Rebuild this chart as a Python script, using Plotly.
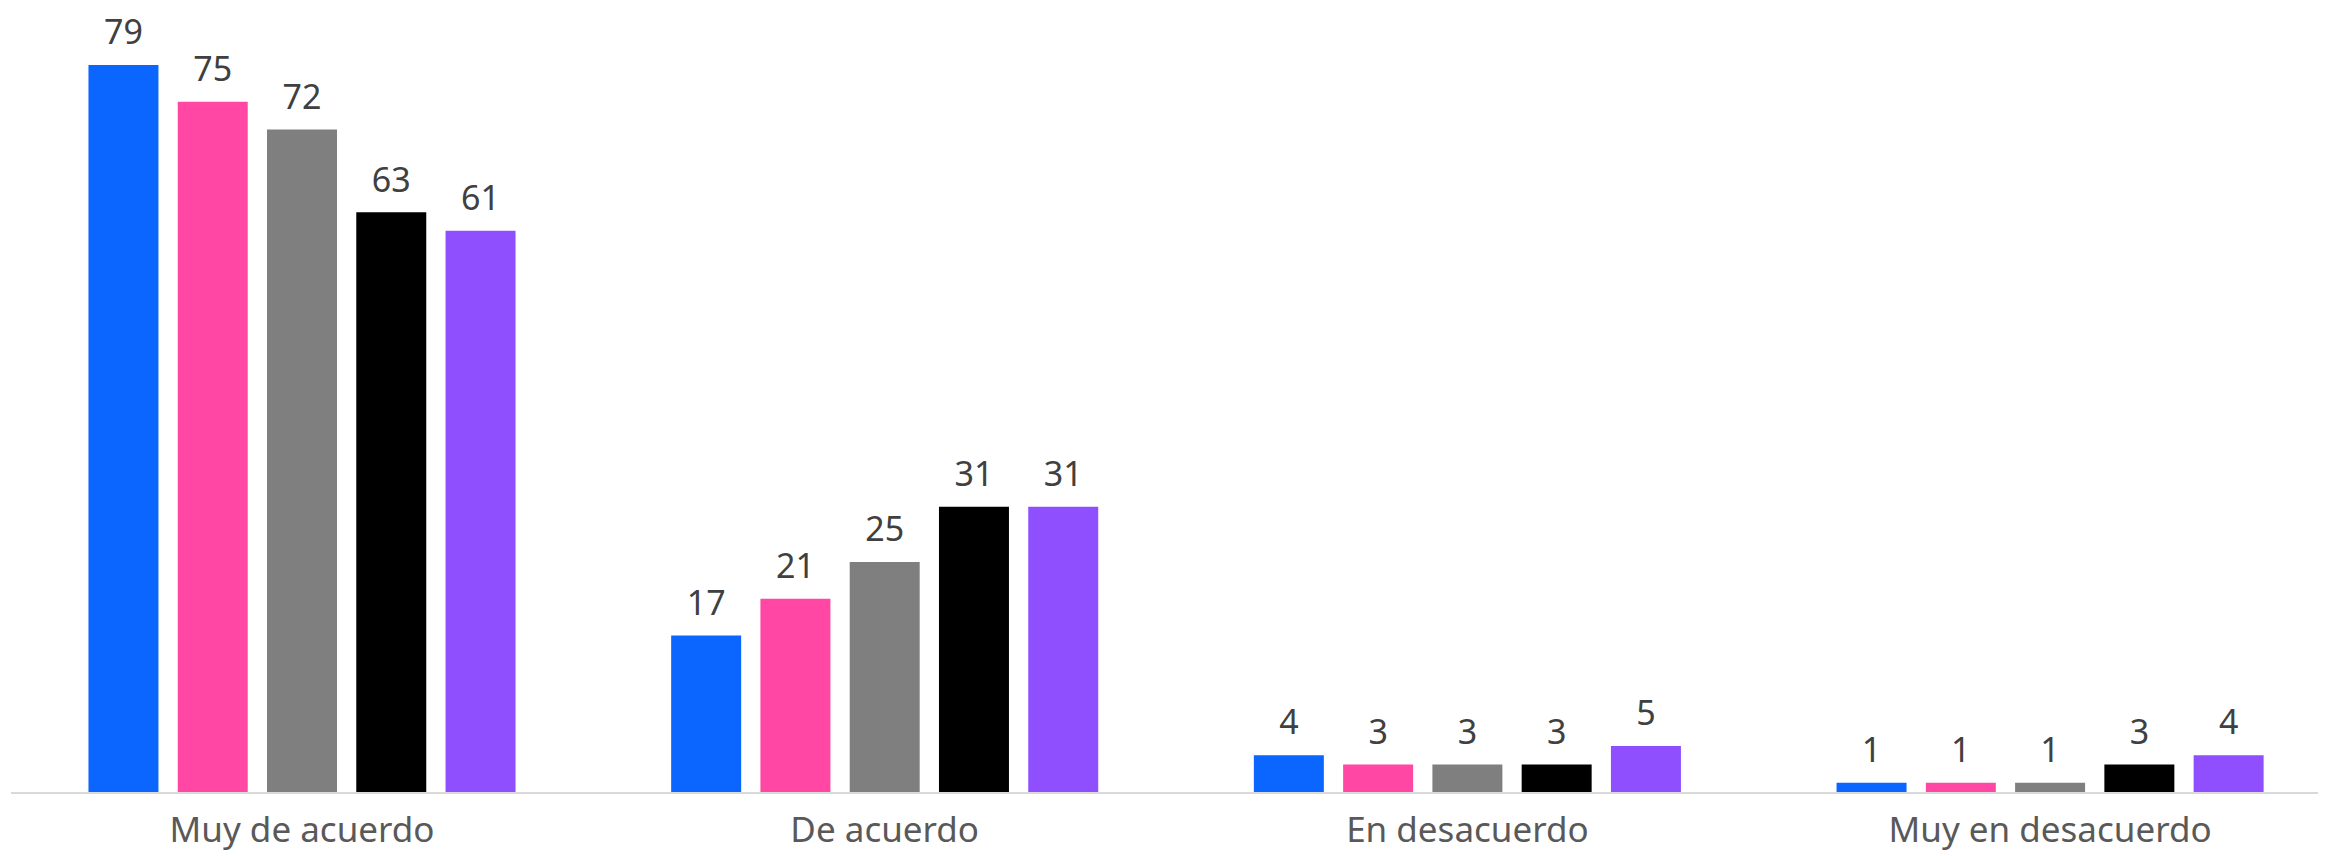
import plotly.graph_objects as go

categories = ["Muy de acuerdo", "De acuerdo", "En desacuerdo", "Muy en desacuerdo"]
series_names = ["Serie 1", "Serie 2", "Serie 3", "Serie 4", "Serie 5"]
series_values = [
    [79, 17, 4, 1],
    [75, 21, 3, 1],
    [72, 25, 3, 1],
    [63, 31, 3, 3],
    [61, 31, 5, 4],
]
colors = ["#0A66FF", "#FF47A3", "#7F7F7F", "#000000", "#8F4FFF"]

FONT = "Noto Sans"
fig = go.Figure()
for name, vals, col in zip(series_names, series_values, colors):
    fig.add_trace(go.Bar(
        x=categories, y=vals, name=name, offsetgroup=name,
        marker=dict(color=col, line=dict(width=0)),
        hoverinfo="skip",
    ))
for name, vals in zip(series_names, series_values):
    fig.add_trace(go.Scatter(
        x=categories, y=vals, name=name + " etiqueta", offsetgroup=name,
        mode="markers+text", text=[str(v) for v in vals], textposition="top center",
        marker=dict(size=18, opacity=0),
        textfont=dict(family=FONT, size=34, color="#404040"),
        hoverinfo="skip", showlegend=False, cliponaxis=False,
    ))

fig.update_layout(
    width=2326, height=856,
    margin=dict(l=3, r=8, t=0, b=72),
    barmode="group", bargap=0.234, bargroupgap=0.216,
    scattermode="group", scattergap=0.234,
    plot_bgcolor="white", paper_bgcolor="white",
    showlegend=False,
    font=dict(family=FONT),
)
fig.update_xaxes(
    range=[-0.4994, 3.4735],
    showline=True, linecolor="#D9D9D9", linewidth=2,
    ticks="", ticklabelstandoff=6,
    tickfont=dict(family=FONT, size=35, color="#595959"),
    showgrid=False,
)
fig.update_yaxes(range=[0, 85.2], visible=False, showgrid=False, zeroline=False)

fig.write_html("out.html")
